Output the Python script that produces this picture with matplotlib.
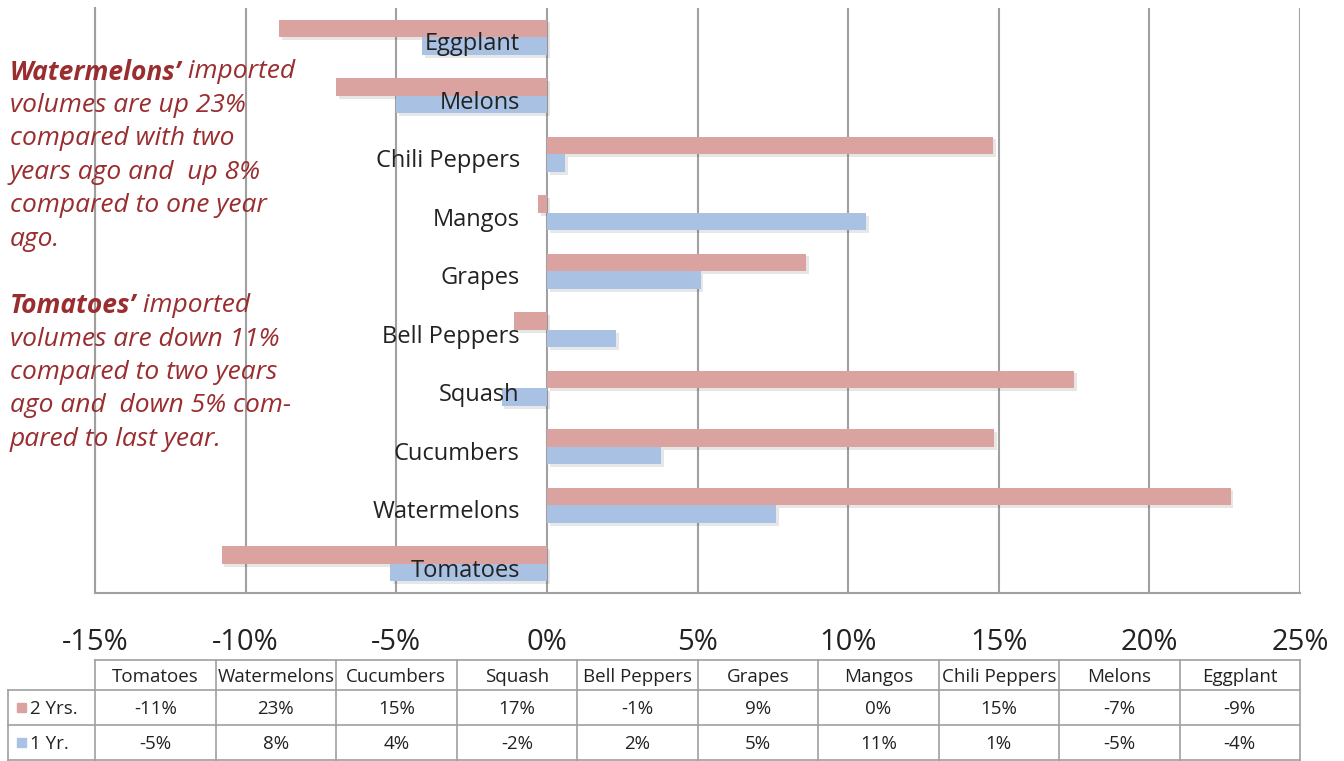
import matplotlib
matplotlib.use("Agg")
import matplotlib.pyplot as plt
import matplotlib.patheffects as pe
import numpy as np

# data, bottom to top as drawn on the chart
categories = ["Tomatoes", "Watermelons", "Cucumbers", "Squash", "Bell Peppers",
              "Grapes", "Mangos", "Chili Peppers", "Melons", "Eggplant"]
two_yrs = [-10.8, 22.7, 14.85, 17.5, -1.1, 8.6, -0.3, 14.8, -7.0, -8.9]
one_yr = [-5.2, 7.6, 3.8, -1.5, 2.3, 5.1, 10.6, 0.6, -5.0, -4.15]
two_yrs_lbl = ["-11%", "23%", "15%", "17%", "-1%", "9%", "0%", "15%", "-7%", "-9%"]
one_yr_lbl = ["-5%", "8%", "4%", "-2%", "2%", "5%", "11%", "1%", "-5%", "-4%"]
xticks = [-15, -10, -5, 0, 5, 10, 15, 20, 25]

PINK = "#dba3a0"
BLUE = "#a9c1e2"
RED_TXT = "#9a2d2f"
GRID = "#a0a0a0"
FONT = "Open Sans"

W, H = 1344, 761
fig = plt.figure(figsize=(W / 100, H / 100), dpi=100)

x0, x1, ytop, ybot = 95, 1300, 8, 593
ax = fig.add_axes([x0 / W, 1 - ybot / H, (x1 - x0) / W, (ybot - ytop) / H])

y = np.arange(len(categories))
shadow = [pe.SimplePatchShadow(offset=(2, -2), alpha=0.12), pe.Normal()]
ax.barh(y + 0.15, two_yrs, height=0.3, color=PINK, zorder=3, path_effects=shadow)
ax.barh(y - 0.15, one_yr, height=0.3, color=BLUE, zorder=3, path_effects=shadow)

for i, name in enumerate(categories):
    ax.text(-0.9, i - 0.12, name, ha="right", va="center", fontsize=17,
            family=FONT, color="#222222", zorder=5)

ax.set_xlim(xticks[0], xticks[-1])
ax.set_ylim(-0.5, len(categories) - 0.5)
ax.set_xticks(xticks)
ax.set_xticklabels([f"{t}%" for t in xticks], fontsize=21, family=FONT, color="#222222")
ax.set_yticks([])
ax.tick_params(axis="x", length=0, pad=25)
ax.grid(axis="x", color=GRID, linewidth=1.5, zorder=0)
for s in ["top", "right"]:
    ax.spines[s].set_visible(False)
for s in ["left", "bottom"]:
    ax.spines[s].set_color(GRID)
    ax.spines[s].set_linewidth(1.5)

# overlay axes in pixel coordinates for the table and notes
tax = fig.add_axes([0, 0, 1, 1], facecolor="none")
tax.set_xlim(0, W)
tax.set_ylim(H, 0)
tax.axis("off")

# data table
cw = (x1 - x0) / len(categories)
r0, r1, r2, r3 = 660, 690, 725, 761
lc = dict(color=GRID, linewidth=1.2)
tax.plot([x0, x1], [r0, r0], **lc)
tax.plot([8, x1], [r1, r1], **lc)
tax.plot([8, x1], [r2, r2], **lc)
tax.plot([8, x1], [r3 - 1, r3 - 1], **lc)
tax.plot([8, 8], [r1, r3], **lc)
for k in range(len(categories) + 1):
    tax.plot([x0 + k * cw] * 2, [r0, r3], **lc)
tf = dict(ha="center", va="center", fontsize=13.5, family=FONT, color="#222222")
for k, name in enumerate(categories):
    cx = x0 + (k + 0.5) * cw
    tax.text(cx, (r0 + r1) / 2 + 2, name, **tf)
    tax.text(cx, (r1 + r2) / 2 + 1, two_yrs_lbl[k], **tf)
    tax.text(cx, (r2 + r3) / 2 + 1, one_yr_lbl[k], **tf)
for (ya, yb), col, lbl in [((r1, r2), PINK, "2 Yrs."), ((r2, r3), BLUE, "1 Yr.")]:
    yc = (ya + yb) / 2
    tax.add_patch(plt.Rectangle((17, yc - 5), 9, 9, color=col))
    tax.text(30, yc + 1, lbl, ha="left", va="center", fontsize=13.5, family=FONT, color="#222222")

# notes on the left
renderer = fig.canvas.get_renderer()
nf = dict(fontsize=19, family=FONT, color=RED_TXT, va="center", style="italic")
notes = [
    [("Watermelons’", "bold"), (" imported", "normal")],
    [("volumes are up 23%", "normal")],
    [("compared with two", "normal")],
    [("years ago and  up 8%", "normal")],
    [("compared to one year", "normal")],
    [("ago.", "normal")],
    None,
    [("Tomatoes’", "bold"), (" imported", "normal")],
    [("volumes are down 11%", "normal")],
    [("compared to two years", "normal")],
    [("ago and  down 5% com-", "normal")],
    [("pared to last year.", "normal")],
]
ly = 72
for line in notes:
    if line is not None:
        lx = 10
        for txt, wt in line:
            t = tax.text(lx, ly, txt, weight=wt, **nf)
            bb = t.get_window_extent(renderer)
            lx += bb.width
    ly += 33.4

fig.savefig("out.png", dpi=100)
